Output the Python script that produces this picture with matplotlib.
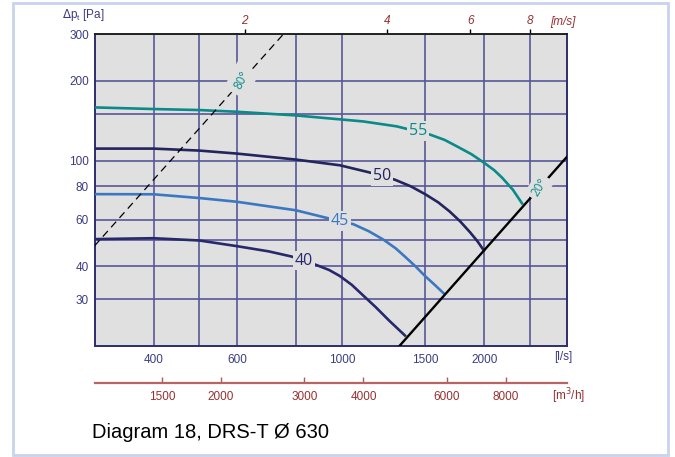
import numpy as np
import matplotlib
matplotlib.use("Agg")
import matplotlib.pyplot as plt
from matplotlib.ticker import NullLocator, FixedLocator
from matplotlib.patches import Rectangle

# fan curves, flow [l/s] vs total pressure [Pa]
q55 = [300, 400, 500, 600, 800, 1109, 1306, 1538, 1650, 1751, 1880, 2001, 2100, 2182, 2300, 2405]
dp55 = [158.9, 156.7, 155.3, 153.0, 148.2, 140.7, 134.8, 125.4, 119.8, 113.3, 105.8, 98.1,
        92.1, 86.3, 77.7, 69.0]
q50 = [300, 400, 500, 600, 800, 991, 1142, 1216, 1297, 1400, 1500, 1600, 1691, 1780, 1867,
       1935, 1996]
dp50 = [111.1, 111.1, 109.2, 106.4, 101.0, 96.1, 90.4, 87.6, 84.7, 80.0, 74.8, 69.6, 64.3,
        59.0, 53.7, 49.7, 45.9]
q45 = [300, 400, 500, 600, 800, 934, 991, 1058, 1140, 1224, 1300, 1361, 1430, 1500, 1575, 1648]
dp45 = [74.8, 74.7, 72.3, 70.0, 65.0, 60.7, 59.2, 57.6, 54.2, 50.4, 46.7, 43.4, 40.0, 36.7,
        33.9, 31.4]
q40 = [300, 400, 500, 600, 700, 783, 831, 884, 940, 991, 1050, 1112, 1180, 1260, 1360]
dp40 = [50.6, 51.0, 50.0, 47.6, 45.5, 43.5, 41.9, 40.4, 38.7, 36.7, 34.0, 30.9, 28.0, 24.9, 21.9]

# damper angle lines
q20 = [1324, 3000]
dp20 = [20, 104]
q80 = [300, 752]
dp80 = [47.7, 300]

# label positions (q, dp)
lab_curves = ["55", "50", "45", "40"]
lab_q = [1449, 1216, 991, 831]
lab_dp = [129.5, 87.6, 59.2, 41.9]

x_grid = [400, 500, 600, 800, 1000, 1500, 2000, 2500]
x_lab = ["400", "", "600", "", "1000", "1500", "2000", ""]
y_grid = [30, 40, 50, 60, 80, 100, 150, 200, 300]
y_lab = ["30", "40", "", "60", "80", "100", "", "200", "300"]
v_ticks = [2, 4, 6, 8]
m3h_ticks = [1500, 2000, 3000, 4000, 6000, 8000]

area = np.pi * 0.315 ** 2

navy = "#3c3c82"
grid_c = "#58589a"
red = "#963030"
bg = "#e0e0e0"
teal = "#0a8a88"

plt.rcParams["font.family"] = ["Liberation Sans", "DejaVu Sans"]

fig = plt.figure(figsize=(6.75, 4.57), dpi=100)
ax = fig.add_axes([0.140, 0.243, 0.7007, 0.682])
ax.set_facecolor(bg)
ax.set_xscale("log")
ax.set_yscale("log")
ax.set_xlim(300, 3000)
ax.set_ylim(20, 300)

ax.xaxis.set_major_locator(FixedLocator(x_grid))
ax.xaxis.set_minor_locator(NullLocator())
ax.set_xticklabels(x_lab)
ax.yaxis.set_major_locator(FixedLocator(y_grid))
ax.yaxis.set_minor_locator(NullLocator())
ax.set_yticklabels(y_lab)
ax.tick_params(length=0, labelsize=8.5, labelcolor=navy)
ax.tick_params(axis="x", pad=6)
ax.tick_params(axis="y", pad=4)
ax.grid(True, color=grid_c, lw=1.2)
ax.set_axisbelow(True)
for s in ["left", "bottom", "right"]:
    ax.spines[s].set_color("#2e2e6e")
    ax.spines[s].set_linewidth(1.4)
ax.spines["top"].set_color("#222222")
ax.spines["top"].set_linewidth(1.4)

ax.plot(q55, dp55, color=teal, lw=1.9, zorder=3)
ax.plot(q50, dp50, color="#24245e", lw=1.9, zorder=3)
ax.plot(q45, dp45, color="#3c78c2", lw=1.9, zorder=3)
ax.plot(q40, dp40, color="#28286c", lw=1.9, zorder=3)
ax.plot(q20, dp20, color="black", lw=1.7, zorder=3)
ax.plot(q80, dp80, color="black", lw=0.9, ls=(0, (6, 4)), zorder=3)

lab_colors = [teal, "#24245e", "#3c78c2", "#28286c"]
for t, q, p, c in zip(lab_curves, lab_q, lab_dp, lab_colors):
    ax.text(q, p, t, color=c, fontsize=11.5, family="Open Sans", ha="center", va="center",
            zorder=5, bbox=dict(boxstyle="square,pad=0.1", fc=bg, ec="none"))
ax.text(2616, 79.2, "20°", color=teal, fontsize=8.5, family="Open Sans", rotation=58,
        ha="center", va="center", zorder=5, bbox=dict(boxstyle="square,pad=0.3", fc=bg, ec="none"))
ax.text(614, 201, "80°", color=teal, fontsize=8.5, family="Open Sans", rotation=62,
        ha="center", va="center", zorder=5, bbox=dict(boxstyle="square,pad=0.5", fc=bg, ec="none"))

# velocity axis on top
top = ax.secondary_xaxis("top", functions=(lambda q: q / 1000 / area, lambda v: v * 1000 * area))
top.xaxis.set_major_locator(FixedLocator(v_ticks))
top.xaxis.set_minor_locator(NullLocator())
top.set_xticklabels([str(v) for v in v_ticks], fontstyle="italic")
top.tick_params(length=3.5, width=1, color="black", labelsize=8.5, labelcolor=red, pad=2)
top.spines["top"].set_visible(False)

# m3/h axis below
bot = ax.secondary_xaxis(-0.119, functions=(lambda q: q * 3.6, lambda m: m / 3.6))
bot.xaxis.set_major_locator(FixedLocator(m3h_ticks))
bot.xaxis.set_minor_locator(NullLocator())
bot.set_xticklabels([str(m) for m in m3h_ticks])
bot.tick_params(direction="in", length=4, width=1, color="#b05a5a", labelsize=8.5,
                labelcolor=red, pad=6)
bot.spines["bottom"].set_color("#b86464")
bot.spines["bottom"].set_linewidth(1.6)

fig.text(62 / 675, 1 - 15 / 457, r"$\Delta$p$_\mathregular{t}$ [Pa]", color=navy, fontsize=8.5,
         ha="left", va="center")
fig.text(563 / 675, 1 - 357 / 457, "[l/s]", color=navy, fontsize=8.5, ha="center", va="center")
fig.text(568 / 675, 1 - 396 / 457, "[m$^3$/h]", color=red, fontsize=8.5, ha="center", va="center")
fig.text(563 / 675, 1 - 22 / 457, "[m/s]", color=red, fontsize=8.5, fontstyle="italic",
         ha="center", va="center")
fig.text(92 / 675, 1 - 432 / 457, "Diagram 18, DRS-T Ø 630", color="black", fontsize=14.5,
         ha="left", va="center")

fig.patches.append(Rectangle((13 / 675, 2 / 457), 655 / 675, 452 / 457, transform=fig.transFigure,
                             fill=False, ec="#c8d4ee", lw=2))

fig.savefig("out.png", dpi=100)
